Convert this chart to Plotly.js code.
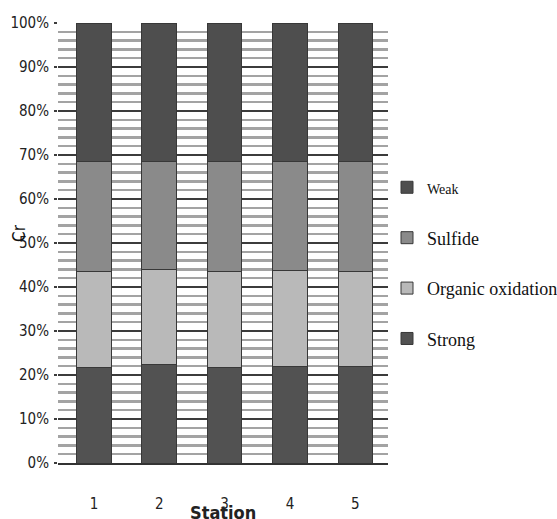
<!DOCTYPE html>
<html>
<head>
<meta charset="utf-8">
<script src="https://cdn.plot.ly/plotly-3.0.1.min.js"></script>
<style>
  html, body { margin: 0; padding: 0; background: #ffffff; }
  #chart { width: 557px; height: 519px; }
</style>
</head>
<body>
<div id="chart"></div>
<script>
// Stations along the x axis
const stations = ['1', '2', '3', '4', '5'];

// Fraction of Cr in each binding phase (percent of total per station)
const strong  = [21.8, 22.4, 21.8, 21.9, 21.9];
const organic = [21.7, 21.5, 21.7, 21.9, 21.6];
const sulfide = [25.0, 24.6, 25.0, 24.7, 25.0];
const weak    = [31.5, 31.5, 31.5, 31.5, 31.5];

const yTicks = [0, 10, 20, 30, 40, 50, 60, 70, 80, 90, 100];

const outline = { color: '#383838', width: 1 };

// One bar trace per phase; the legend lists them top-down from Weak to Strong
function phase(name, values, color, rank) {
  return {
    type: 'bar',
    x: stations,
    y: values,
    name: name,
    legendgroup: 'g' + rank,
    legendrank: rank,
    marker: { color: color, line: outline },
    hoverinfo: 'x+y+name'
  };
}

const traces = [
  phase('Strong', strong, '#525252', 4),
  phase('Organic oxidation', organic, '#b9b9b9', 3),
  phase('Sulfide', sulfide, '#8a8a8a', 2),
  phase('<span style="font-size:14px">Weak</span>', weak, '#4e4e4e', 1)
];

const narrow = '"Liberation Sans Narrow", "DejaVu Sans Condensed", Arial, sans-serif';

const layout = {
  width: 557,
  height: 519,
  margin: { l: 58, r: 169, t: 23, b: 56, pad: 0, autoexpand: false },
  paper_bgcolor: '#ffffff',
  plot_bgcolor: '#ffffff',
  barmode: 'stack',
  barnorm: 'percent',
  bargap: 0.47,
  showlegend: true,
  legend: {
    x: 0.997, xanchor: 'left',
    y: 0.668, yanchor: 'top',
    traceorder: 'grouped',
    tracegroupgap: 24,
    font: { family: '"Liberation Serif", "Times New Roman", serif', size: 18, color: '#111111' },
    bgcolor: 'rgba(0,0,0,0)',
    itemwidth: 30
  },
  xaxis: {
    type: 'category',
    range: [-0.55, 4.5],
    showgrid: false,
    showline: true,
    linecolor: '#333333',
    linewidth: 2,
    ticks: '',
    ticklabelstandoff: 26,
    tickfont: { family: narrow, size: 15, color: '#222222' },
    zeroline: false
  },
  yaxis: {
    range: [0, 100],
    tickvals: yTicks,
    ticktext: yTicks.map(v => v + '%'),
    showgrid: true,
    gridcolor: '#3c3c3c',
    gridwidth: 2,
    minor: { dtick: 2, showgrid: true, gridcolor: '#a3a3a3', gridwidth: 2.5 },
    ticks: 'outside',
    ticklen: 3,
    tickcolor: '#3c3c3c',
    tickwidth: 2,
    ticklabelstandoff: 2,
    showline: false,
    zeroline: false,
    tickfont: { family: narrow, size: 15, color: '#222222' }
  },
  annotations: [
    {
      text: '<b>Station</b>',
      xref: 'paper', yref: 'paper',
      x: 0.5, y: 0, xanchor: 'center', yanchor: 'top',
      yshift: -37,
      showarrow: false,
      font: { family: narrow, size: 18, color: '#222222' }
    },
    {
      text: 'Cr',
      xref: 'paper', yref: 'paper',
      x: 0, y: 0.5, xanchor: 'center', yanchor: 'middle',
      xshift: -39, yshift: 10,
      textangle: -90,
      showarrow: false,
      font: { family: narrow, size: 17, color: '#111111' }
    }
  ]
};

Plotly.newPlot('chart', traces, layout, { displayModeBar: false, staticPlot: true });
</script>
</body>
</html>
